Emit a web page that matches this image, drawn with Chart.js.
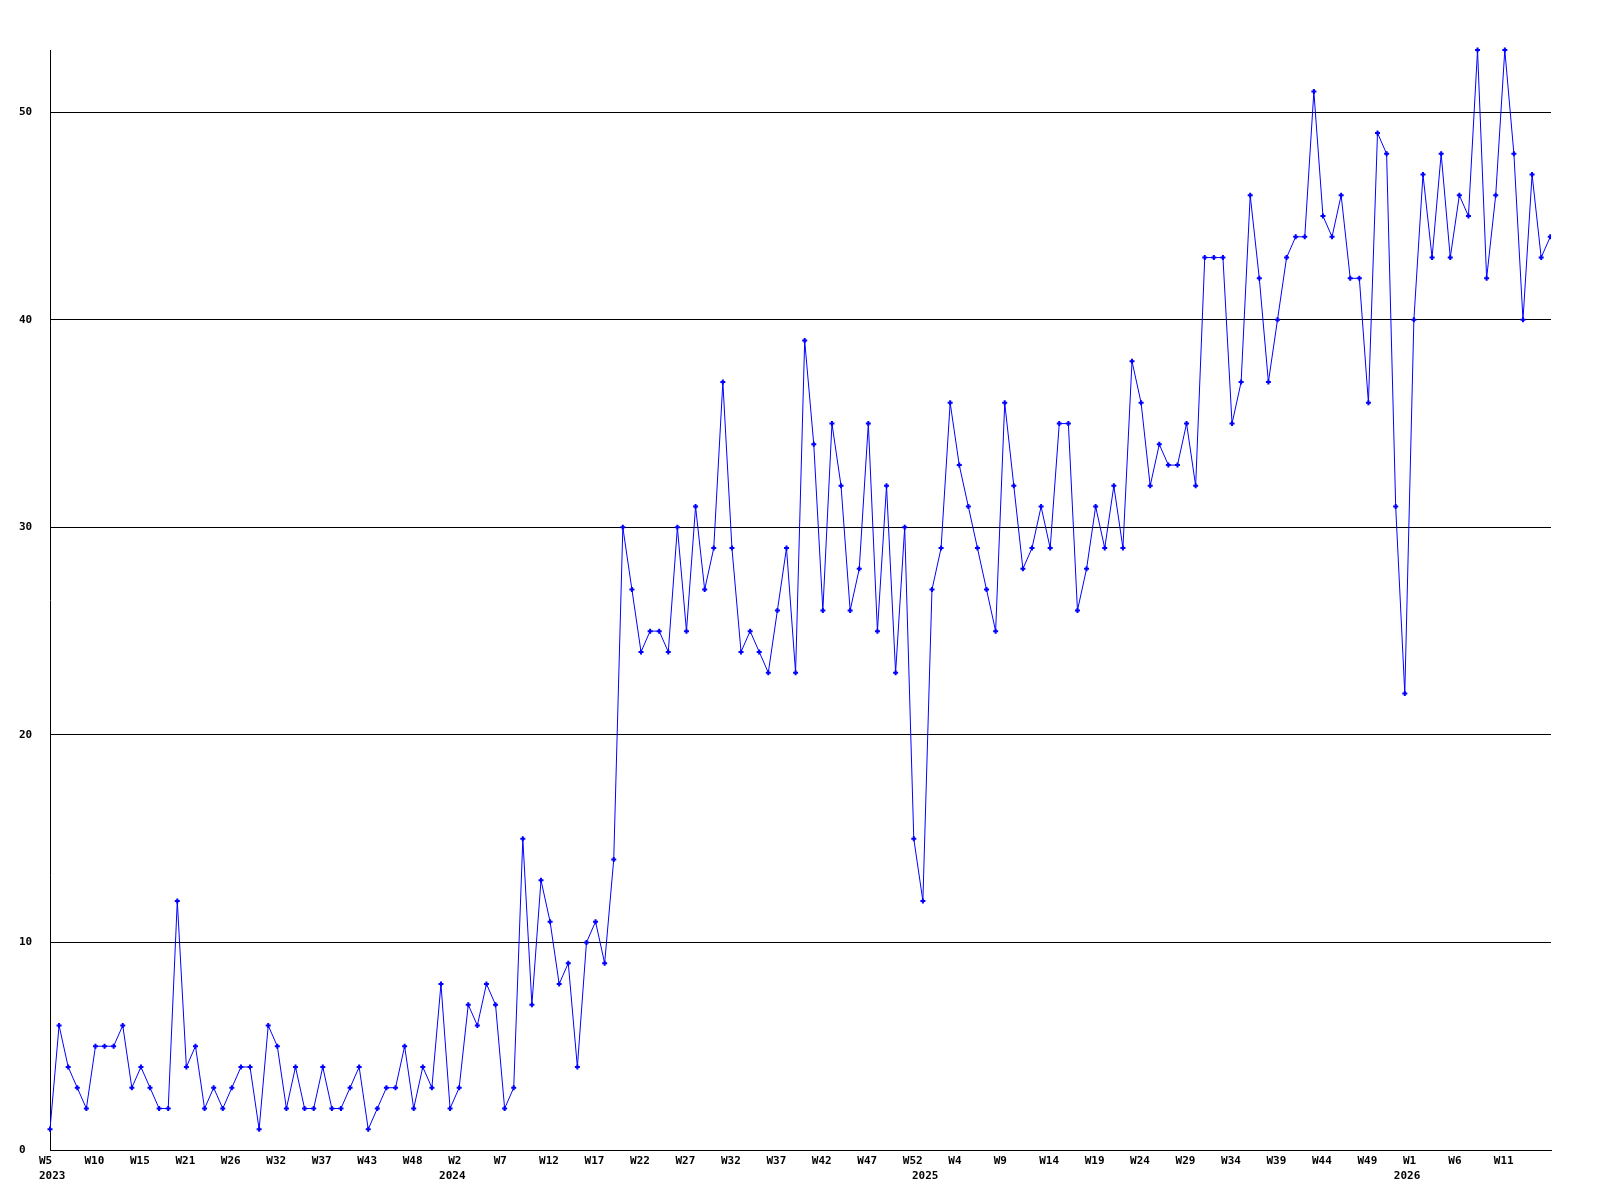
<!DOCTYPE html>
<html lang="en">
  <head>
    <meta charset="UTF-8" />
    <title>Weekly counts</title>
    <script src="https://cdn.jsdelivr.net/npm/chart.js"></script>
    <style>
      body { margin: 0; background: #fff; }
      canvas { display: block; }
    </style>
  </head>
  <body>
    <canvas id="grafico" width="1600" height="1200"></canvas>
  </body>
</html>
<script>
  // weekly values, one per point (last one falls just past the right edge)
  const counts = [
    1, 6, 4, 3, 2, 5, 5, 5, 6, 3,
    4, 3, 2, 2, 12, 4, 5, 2, 3, 2,
    3, 4, 4, 1, 6, 5, 2, 4, 2, 2,
    4, 2, 2, 3, 4, 1, 2, 3, 3, 5,
    2, 4, 3, 8, 2, 3, 7, 6, 8, 7,
    2, 3, 15, 7, 13, 11, 8, 9, 4, 10,
    11, 9, 14, 30, 27, 24, 25, 25, 24, 30,
    25, 31, 27, 29, 37, 29, 24, 25, 24, 23,
    26, 29, 23, 39, 34, 26, 35, 32, 26, 28,
    35, 25, 32, 23, 30, 15, 12, 27, 29, 36,
    33, 31, 29, 27, 25, 36, 32, 28, 29, 31,
    29, 35, 35, 26, 28, 31, 29, 32, 29, 38,
    36, 32, 34, 33, 33, 35, 32, 43, 43, 43,
    35, 37, 46, 42, 37, 40, 43, 44, 44, 51,
    45, 44, 46, 42, 42, 36, 49, 48, 31, 22,
    40, 47, 43, 48, 43, 46, 45, 53, 42, 46,
    53, 48, 40, 47, 43, 44, 45
  ]

  // x tick labels, one every 5 points
  const weekTicks = [
    "W5", "W10", "W15", "W21", "W26", "W32", "W37", "W43", "W48",
    "W2", "W7", "W12", "W17", "W22", "W27", "W32", "W37", "W42", "W47", "W52",
    "W4", "W9", "W14", "W19", "W24", "W29", "W34", "W39", "W44", "W49",
    "W1", "W6", "W11"
  ]
  const weekStep = 5

  // year labels and the point where each year starts
  const years = ["2023", "2024", "2025", "2026"]
  const yearStart = [0, 44, 96, 149]

  const yTicks = [0, 10, 20, 30, 40, 50]
  const yMax = 53
  const xMax = 165.08

  const pontos = counts.map((v, i) => ({ x: i, y: v }))

  const rotulos = {}
  weekTicks.forEach((w, i) => { rotulos[i * weekStep] = [w] })
  years.forEach((a, i) => {
    const pos = yearStart[i]
    if (rotulos[pos]) rotulos[pos] = [rotulos[pos][0], a]
    else rotulos[pos] = ["", a]
  })
  const xTickValues = Object.keys(rotulos).map(Number).sort((a, b) => a - b)

  const fonte = { family: "'DejaVu Sans Mono', monospace", size: 11, weight: "bold", lineHeight: "15px" }

  const grafico = document.getElementById("grafico")
  const semanal = new Chart(grafico, {
    type: "line",
    data: {
      datasets: [
        {
          data: pontos,
          borderColor: "#0000ff",
          borderWidth: 1,
          tension: 0,
          pointStyle: "cross",
          pointRadius: 2.5,
          pointBorderWidth: 2,
          pointBorderColor: "#0000ff",
          pointBackgroundColor: "#0000ff",
          clip: { left: 6, top: 6, right: 0, bottom: 6 },
        },
      ],
    },
    options: {
      responsive: false,
      devicePixelRatio: 1,
      animation: false,
      events: [],
      layout: { padding: { top: 50, left: 19, right: 49, bottom: 0 } },
      plugins: { legend: { display: false }, tooltip: { enabled: false } },
      scales: {
        x: {
          type: "linear",
          min: 0,
          max: xMax,
          afterBuildTicks: (s) => { s.ticks = xTickValues.map((v) => ({ value: v })) },
          afterFit: (s) => { s.height = 50 },
          grid: { display: false, drawTicks: false },
          border: { display: true, color: "#000", width: 1 },
          ticks: {
            autoSkip: false,
            maxRotation: 0,
            align: "start",
            labelOffset: -11,
            padding: 4,
            color: "#000",
            font: fonte,
            callback: (v) => rotulos[v] || "",
          },
        },
        y: {
          min: 0,
          max: yMax,
          afterBuildTicks: (s) => { s.ticks = yTicks.map((v) => ({ value: v })) },
          afterFit: (s) => { s.width = 31 },
          grid: { color: "#000", lineWidth: 1, drawTicks: false },
          border: { display: true, color: "#000", width: 1 },
          ticks: {
            crossAlign: "far",
            padding: 0,
            color: "#000",
            font: fonte,
          },
        },
      },
    },
  })
</script>
